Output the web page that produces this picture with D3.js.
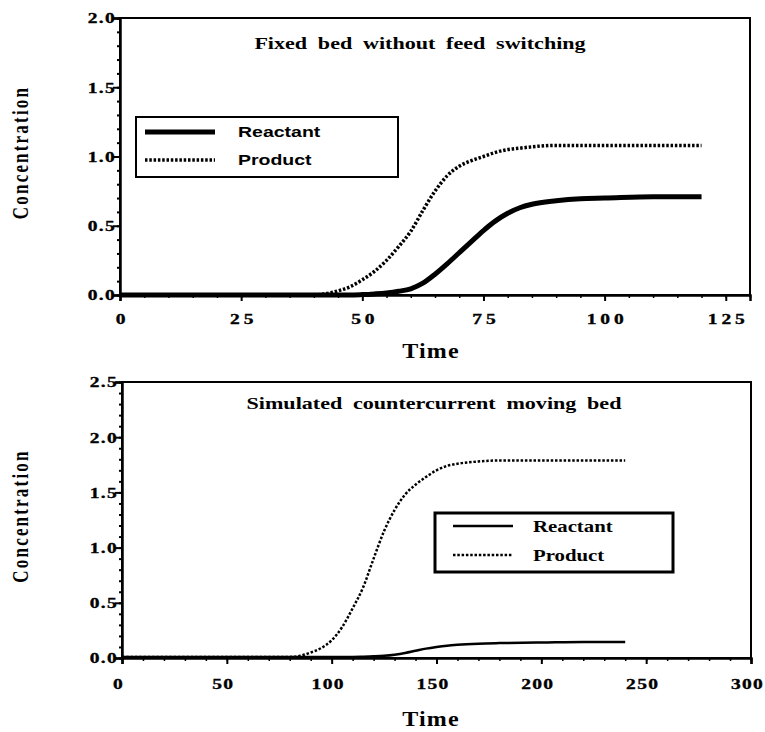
<!DOCTYPE html>
<html>
<head>
<meta charset="utf-8">
<script src="https://cdn.jsdelivr.net/npm/d3@7"></script>
<style>
  body { margin: 0; background: #fff; }
  svg { display: block; }
</style>
</head>
<body>
<div id="chart"></div>
<script>
// top panel: fixed bed without feed switching
const timeTop = [0, 10, 20, 30, 40, 42.5, 45, 47.5, 50, 52.5, 55, 57.5, 60, 62.5, 65, 67.5, 70, 72.5, 75, 77.5, 80, 82.5, 85, 90, 95, 100, 110, 120];
const reactantTop = [0, 0, 0, 0, 0, 0, 0, 0, 0.003, 0.008, 0.015, 0.027, 0.045, 0.085, 0.15, 0.225, 0.305, 0.385, 0.465, 0.535, 0.59, 0.63, 0.655, 0.68, 0.695, 0.70, 0.71, 0.71];
const productTop = [0, 0, 0, 0, 0, 0.01, 0.03, 0.06, 0.11, 0.17, 0.25, 0.35, 0.46, 0.61, 0.75, 0.86, 0.93, 0.97, 1.0, 1.03, 1.05, 1.06, 1.07, 1.08, 1.08, 1.08, 1.08, 1.08];

// bottom panel: simulated countercurrent moving bed
const timeBot = [0, 20, 40, 60, 80, 85, 90, 95, 100, 105, 110, 115, 120, 125, 130, 135, 140, 145, 150, 155, 160, 170, 180, 200, 220, 240];
const reactantBot = [0.01, 0.01, 0.01, 0.01, 0.01, 0.01, 0.01, 0.01, 0.01, 0.01, 0.01, 0.012, 0.015, 0.02, 0.03, 0.045, 0.065, 0.085, 0.10, 0.112, 0.12, 0.13, 0.135, 0.14, 0.145, 0.145];
const productBot = [0.01, 0.01, 0.01, 0.01, 0.01, 0.02, 0.05, 0.09, 0.16, 0.28, 0.45, 0.64, 0.90, 1.15, 1.34, 1.48, 1.57, 1.64, 1.70, 1.74, 1.76, 1.78, 1.79, 1.79, 1.79, 1.79];

const seriesNames = ["Reactant", "Product"];
const titles = ["Fixed bed without feed switching", "Simulated countercurrent moving bed"];
const yTicksTop = [0, 0.5, 1.0, 1.5, 2.0];
const yTicksBot = [0, 0.5, 1.0, 1.5, 2.0, 2.5];
const xTicksTop = [0, 25, 50, 75, 100, 125];
const xTicksBot = [0, 50, 100, 150, 200, 250, 300];

const W = 765, H = 732;
const serif = "'Liberation Serif', 'DejaVu Serif', serif";
const sans = "'Liberation Sans', Arial, sans-serif";
const SX = 1.3; // the scan is stretched sideways, so all text is widened

const svg = d3.select("#chart").append("svg")
  .attr("width", W).attr("height", H);

function drawPanel(p) {
  const x = d3.scaleLinear().domain(p.xDomain).range([p.left, p.right]);
  const y = d3.scaleLinear().domain(p.yDomain).range([p.bottom, p.top]);
  const g = svg.append("g");

  // frame
  g.append("rect")
    .attr("x", p.left).attr("y", p.top)
    .attr("width", p.right - p.left).attr("height", p.bottom - p.top)
    .attr("fill", "none").attr("stroke", "#000").attr("stroke-width", 2);

  // x axis
  const xAxis = g.append("g").attr("transform", `translate(0,${p.bottom})`)
    .call(d3.axisBottom(x).tickValues(p.xTicks).tickSize(6).tickFormat(d3.format("d")));
  g.append("g").attr("transform", `translate(0,${p.bottom})`)
    .call(d3.axisBottom(x).tickValues(d3.range(p.xDomain[0], p.xDomain[1] + 0.01, p.xMinor)).tickSize(3).tickFormat(""))
    .call(a => a.select(".domain").remove())
    .selectAll(".tick line").attr("stroke-width", 1.5);
  xAxis.select(".domain").attr("stroke-width", 2.5);
  xAxis.selectAll(".tick line").attr("stroke-width", 2);
  xAxis.selectAll(".tick text")
    .attr("y", null)
    .attr("transform", `translate(${p.xLabelDx},${p.xLabelY}) scale(${SX},1)`)
    .attr("font-family", serif).attr("font-weight", "bold")
    .attr("font-size", 15).attr("letter-spacing", p.xLetter)
    .attr("stroke", "#000").attr("stroke-width", 0.35);

  // y axis
  const yAxis = g.append("g").attr("transform", `translate(${p.left},0)`)
    .call(d3.axisLeft(y).tickValues(p.yTicks).tickSize(7).tickFormat(d3.format(".1f")));
  g.append("g").attr("transform", `translate(${p.left},0)`)
    .call(d3.axisLeft(y).tickValues(d3.range(p.yDomain[0], p.yDomain[1] + 0.001, 0.1)).tickSize(3).tickFormat(""))
    .call(a => a.select(".domain").remove())
    .selectAll(".tick line").attr("stroke-width", 2);
  yAxis.select(".domain").attr("stroke-width", 2.5);
  yAxis.selectAll(".tick line").attr("stroke-width", 2);
  yAxis.selectAll(".tick text")
    .attr("x", null)
    .attr("transform", `translate(-4,0) scale(${SX},1)`)
    .attr("font-family", serif).attr("font-weight", "bold")
    .attr("font-size", 15).attr("letter-spacing", 1)
    .attr("stroke", "#000").attr("stroke-width", 0.35);

  // axis labels
  g.append("text")
    .attr("transform", `translate(${p.timeX},${p.timeY}) scale(1.2,1)`)
    .attr("text-anchor", "middle")
    .attr("font-family", serif).attr("font-weight", "bold").attr("font-size", 20)
    .attr("letter-spacing", 1)
    .text("Time");
  g.append("text")
    .attr("transform", `translate(${p.concX},${(p.top + p.bottom) / 2 - 4}) rotate(-90) scale(1,${SX})`)
    .attr("text-anchor", "middle")
    .attr("font-family", serif).attr("font-weight", "bold").attr("font-size", 17)
    .attr("letter-spacing", 2.2)
    .text("Concentration");

  // title
  g.append("text")
    .attr("transform", `translate(${p.titleX},${p.titleY}) scale(${SX},1)`)
    .attr("text-anchor", "middle")
    .attr("font-family", serif).attr("font-weight", "bold").attr("font-size", 17)
    .attr("word-spacing", 4)
    .text(p.title);

  // lines
  const line = d3.line().curve(d3.curveMonotoneX)
    .x(d => x(d[0])).y(d => y(d[1]));
  const reactPts = p.time.map((t, i) => [t, p.reactant[i]]);
  const prodPts = p.time.map((t, i) => [t, p.product[i]]);
  g.append("path").datum(prodPts).attr("d", line)
    .attr("fill", "none").attr("stroke", "#000")
    .attr("stroke-width", p.prodWidth).attr("stroke-dasharray", "2.5,1.8");
  g.append("path").datum(reactPts).attr("d", line)
    .attr("fill", "none").attr("stroke", "#000")
    .attr("stroke-width", p.reactWidth);

  // legend
  const L = p.legend;
  const lg = g.append("g");
  lg.append("rect")
    .attr("x", L.x).attr("y", L.y).attr("width", L.w).attr("height", L.h)
    .attr("fill", "#fff").attr("stroke", "#000").attr("stroke-width", L.stroke);
  seriesNames.forEach((name, i) => {
    const ly = L.y + L.rowY[i];
    lg.append("line")
      .attr("x1", L.x + L.lineX[0]).attr("x2", L.x + L.lineX[1])
      .attr("y1", ly).attr("y2", ly)
      .attr("stroke", "#000")
      .attr("stroke-width", i === 0 ? p.reactWidth : p.prodWidth)
      .attr("stroke-dasharray", i === 0 ? null : "2.5,1.8");
    lg.append("text")
      .attr("transform", `translate(${L.x + L.textX},${ly}) scale(${SX},1)`)
      .attr("dy", "0.35em")
      .attr("font-family", L.font).attr("font-weight", "bold")
      .attr("font-size", L.fontSize)
      .text(name);
  });
}

drawPanel({
  left: 120, right: 750, top: 18, bottom: 295,
  xDomain: [0, 130], yDomain: [0, 2], xMinor: 5,
  xTicks: xTicksTop, yTicks: yTicksTop,
  time: timeTop, reactant: reactantTop, product: productTop,
  reactWidth: 5, prodWidth: 3.5,
  title: titles[0], titleX: 420, titleY: 49,
  xLabelY: 18, xLabelDx: 2, xLetter: 3,
  timeX: 431, timeY: 358, concX: 28,
  legend: { x: 136, y: 117, w: 262, h: 60, stroke: 2, rowY: [15, 43],
            lineX: [9, 79], textX: 102, font: sans, fontSize: 15 }
});

drawPanel({
  left: 122, right: 751, top: 382, bottom: 658,
  xDomain: [0, 300], yDomain: [0, 2.5], xMinor: 10,
  xTicks: xTicksBot, yTicks: yTicksBot,
  time: timeBot, reactant: reactantBot, product: productBot,
  reactWidth: 2.5, prodWidth: 2.5,
  title: titles[1], titleX: 434, titleY: 409,
  xLabelY: 20, xLabelDx: -4, xLetter: 1,
  timeX: 431, timeY: 726, concX: 28,
  legend: { x: 435, y: 513, w: 238, h: 59, stroke: 3, rowY: [13, 42],
            lineX: [18, 78], textX: 98, font: serif, fontSize: 16 }
});
</script>
</body>
</html>
